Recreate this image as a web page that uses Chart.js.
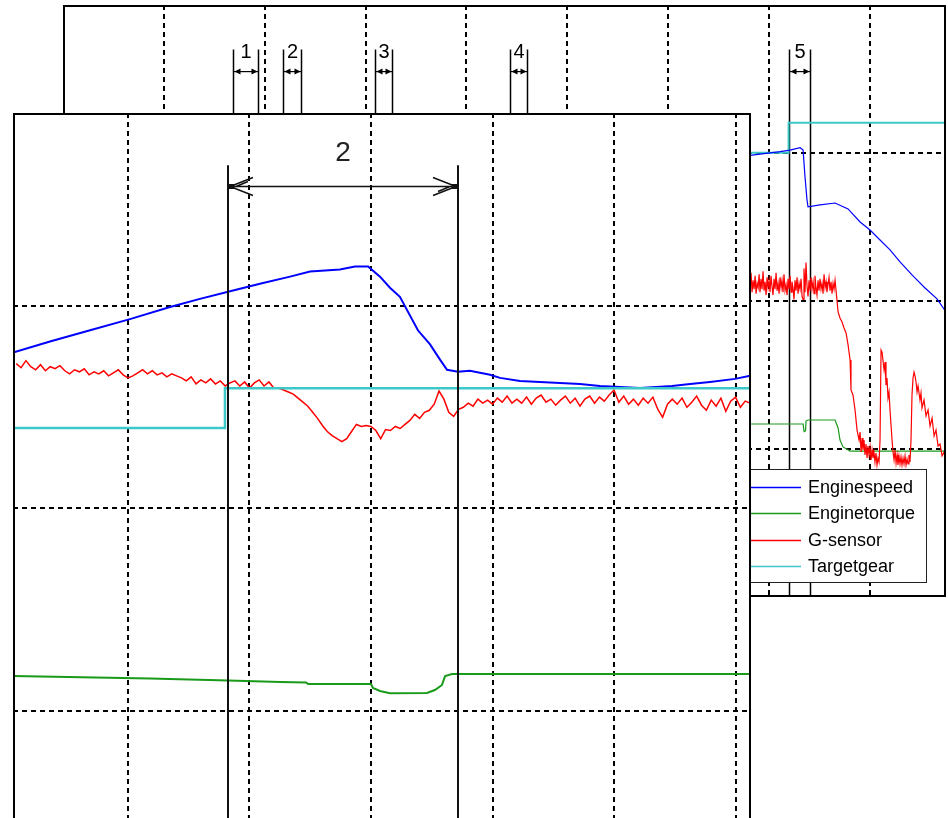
<!DOCTYPE html>
<html>
<head>
<meta charset="utf-8">
<script src="https://cdn.jsdelivr.net/npm/chart.js@4/dist/chart.umd.min.js"></script>
<style>
  html, body { margin: 0; padding: 0; background: #fff; width: 948px; height: 818px; overflow: hidden; }
  #bg { position: absolute; left: 63px; top: 5px; }
  #fg { position: absolute; left: 13px; top: 113px; background: #fff; }
</style>
</head>
<body>
<canvas id="bg" width="883" height="592"></canvas>
<canvas id="fg" width="738" height="705"></canvas>
<script>
  // ---- background window (whole shift), time in s ----
  const bgGridX = [1, 2, 3, 4, 5, 6, 7, 8];
  const bgGridY = [100, 200, 300];
  const bgLabels = ['Enginespeed', 'Enginetorque', 'G-sensor', 'Targetgear'];

  const bgBlueT = [6.713, 6.832, 7.110, 7.208, 7.308, 7.338, 7.357, 7.377, 7.387, 7.506, 7.655, 7.784, 7.903, 8.002, 8.101, 8.200, 8.299, 8.418, 8.547, 8.666, 8.755];
  const bgBlueV = [297.3, 298.6, 300.9, 302.0, 303.6, 302.0, 284.0, 268.2, 263.7, 264.9, 266.2, 262.2, 253.4, 248.0, 241.2, 234.5, 226.4, 217.6, 208.8, 201.4, 192.6];

  const bgGreenT = [6.713, 7.338, 7.348, 7.362, 7.367, 7.387, 7.655, 7.685, 7.704, 7.734, 7.804, 8.755];
  const bgGreenV = [116.9, 116.9, 111.7, 112.2, 118.9, 119.6, 119.6, 114.2, 106.1, 101.4, 98.6, 98.6];

  const bgRedT = [6.713, 6.723, 6.733, 6.743, 6.753, 6.763, 6.773, 6.783, 6.792, 6.802,
    6.812, 6.822, 6.832, 6.842, 6.852, 6.862, 6.872, 6.882, 6.892, 6.902,
    6.911, 6.921, 6.931, 6.941, 6.951, 6.961, 6.971, 6.981, 6.991, 7.001,
    7.010, 7.020, 7.030, 7.040, 7.050, 7.060, 7.070, 7.080, 7.090, 7.100,
    7.110, 7.120, 7.129, 7.139, 7.149, 7.159, 7.169, 7.179, 7.189, 7.199,
    7.209, 7.219, 7.228, 7.238, 7.248, 7.258, 7.268, 7.278, 7.288, 7.298,
    7.308, 7.318, 7.328, 7.338, 7.347, 7.357, 7.367, 7.377, 7.387, 7.397,
    7.407, 7.417, 7.427, 7.437, 7.447, 7.456, 7.466, 7.476, 7.486, 7.496,
    7.506, 7.516, 7.526, 7.536, 7.546, 7.556, 7.566, 7.575, 7.585, 7.595,
    7.605, 7.615, 7.625, 7.635, 7.645, 7.655, 7.665,
    7.685, 7.704, 7.724, 7.744, 7.764, 7.784, 7.804, 7.813, 7.833, 7.853,
    7.873, 7.893, 7.903, 7.913, 7.923, 7.932, 7.942, 7.952, 7.962, 7.972,
    7.982, 7.992, 8.002, 8.012, 8.022, 8.031, 8.041, 8.051, 8.061, 8.071,
    8.081, 8.091, 8.101, 8.111, 8.121, 8.141, 8.151, 8.160, 8.170, 8.180,
    8.190, 8.200, 8.210, 8.220, 8.230, 8.240, 8.250, 8.260, 8.270, 8.279,
    8.289, 8.299, 8.309, 8.319, 8.329, 8.339, 8.349, 8.359, 8.369, 8.379,
    8.388, 8.398, 8.408, 8.418, 8.428, 8.438, 8.448, 8.458, 8.468, 8.478,
    8.497, 8.507, 8.517, 8.537, 8.557, 8.577, 8.597, 8.617, 8.637, 8.656,
    8.676, 8.696, 8.716, 8.736, 8.755];
  const bgRedV = [212, 217, 206, 215, 209, 218, 207, 213, 205, 216,
    210, 219, 206, 214, 208, 217, 205, 212, 209, 218,
    206, 215, 208, 220, 207, 213, 204, 216, 209, 214,
    206, 217, 210, 204, 215, 208, 219, 207, 212, 205,
    216, 209, 214, 206, 218, 207, 211, 204, 215, 208,
    217, 206, 213, 209, 201, 214, 207, 216, 205, 212,
    208, 215, 203, 201, 222, 206, 226, 210, 203, 214,
    207, 216, 208, 213, 205, 217, 209, 204, 214, 207,
    215, 208, 212, 205, 218, 209, 213, 206, 211, 216,
    207, 213, 205, 212, 208, 214, 207,
    192.6, 188.5, 185.8, 181.8, 178.4, 170.3, 160.1, 139.9, 136.5, 126.4,
    112.8, 106.1, 111.5, 98.0, 107.4, 99.3, 106.1, 95.9, 103.4, 93.9,
    102.0, 95.9, 101.4, 92.6, 99.3, 93.9, 98.0, 91.2, 97.3, 89.2,
    93.9, 91.2, 106.1, 166.9, 165.5, 153.4, 158.8, 143.2, 148.0, 134.5,
    138.5, 126.4, 116.2, 106.1, 98.0, 92.6, 99.3, 90.5, 95.9, 89.2,
    95.3, 89.9, 94.6, 89.2, 93.9, 89.9, 95.3, 89.2, 93.2, 89.9,
    95.9, 91.2, 106.1, 136.5, 148.0, 152.0, 149.3, 145.3, 138.5, 142.6,
    133.1, 137.8, 127.7, 133.1, 122.3, 126.4, 115.5, 120.9, 108.8, 112.8,
    102.0, 103.4, 95.3, 98.0, 88.5];

  const bgCyanT = [6.713, 7.194, 7.194, 8.755];
  const bgCyanV = [300.2, 300.2, 320.5, 320.5];

  // shift markers 1..5
  const markerLabels = ['1', '2', '3', '4', '5'];
  const markerStart = [1.689, 2.184, 3.094, 4.432, 7.194];
  const markerEnd = [1.931, 2.360, 3.265, 4.601, 7.402];
  const markerTop = 370, markerArrow = 355, markerText = 368;

  // ---- foreground window (zoom on shift 2), time in ms ----
  const fgGridX = [500, 1000, 1500, 2000, 2500, 3000];
  const fgGridY = [200, 400, 600];

  const fgBlueT = [27, 179, 344, 508, 673, 796, 912, 1043, 1167, 1249, 1372, 1434, 1488, 1537, 1578, 1619, 1693, 1743, 1784, 1813, 1858, 1907, 1990, 2031, 2113, 2195, 2278, 2360, 2442, 2607, 2739, 2813, 2895, 2998, 3060];
  const fgBlueV = [554, 565, 576, 587, 599, 607, 614, 622, 629, 634, 636, 639, 639, 629, 618, 609, 576, 562, 547, 537, 535, 536, 532, 529, 526, 525, 524, 523, 521, 519, 521, 523, 525, 528, 531];

  const fgGreenT = [27, 591, 912, 1126, 1233, 1241, 1500, 1508, 1537, 1578, 1730, 1763, 1792, 1805, 1833, 3060];
  const fgGreenV = [234.5, 232.1, 230.1, 228.6, 228.1, 226.6, 226.6, 222.7, 219.7, 217.5, 217.8, 220.7, 225.7, 234.5, 236.5, 236.5];

  const fgRedT = [40, 60, 80, 100, 120, 140, 160, 180, 200, 220, 240, 260, 280, 300, 320, 340, 360, 380, 400, 420,
    440, 460, 480, 500, 520, 540, 560, 580, 600, 620, 640, 660, 680, 700, 720, 740, 760, 780, 800, 820,
    840, 860, 880, 900, 920, 940, 960, 980, 1000, 1020, 1040, 1060, 1080, 1100, 1120, 1140, 1160, 1180, 1200, 1220,
    1240, 1260, 1280, 1300, 1320, 1340, 1360, 1380, 1400, 1420, 1440, 1460, 1480, 1500, 1520, 1540, 1560, 1580, 1600, 1620,
    1640, 1660, 1680, 1700, 1720, 1740, 1760, 1780, 1800, 1820, 1840, 1860, 1880, 1900, 1920, 1940, 1960, 1980, 2000, 2020,
    2040, 2060, 2080, 2100, 2120, 2140, 2160, 2180, 2200, 2220, 2240, 2260, 2280, 2300, 2320, 2340, 2360, 2380, 2400, 2420,
    2440, 2460, 2480, 2500, 2520, 2540, 2560, 2580, 2600, 2620, 2640, 2660, 2680, 2700, 2720, 2740, 2760, 2780, 2800, 2820,
    2840, 2860, 2880, 2900, 2920, 2940, 2960, 2980, 3000, 3020, 3040, 3060];
  const fgRedV = [543, 539, 546, 540, 537, 542, 536, 540, 538, 541,
    536, 533, 537, 535, 538, 532, 535, 533, 536, 531,
    534, 537, 532, 529, 531, 534, 537, 533, 536, 532,
    534, 530, 533, 531, 529, 526, 530, 523, 527, 524,
    528, 523, 526, 521, 524, 526, 521, 525, 519, 524,
    527, 521, 525, 519, 519, 517, 515, 513, 509, 505,
    501, 495, 489, 482, 476, 472, 469, 466, 469, 476,
    483, 481, 482, 481, 477, 469, 478, 477, 481, 479,
    483, 487, 493, 489, 495, 497, 503, 516, 508, 495,
    491, 498, 500, 504, 501, 508, 504, 507, 503, 509,
    505, 511, 504, 508, 504, 510, 503, 509, 512, 505,
    508, 502, 507, 511, 504, 509, 501, 508, 511, 504,
    510, 506, 512, 517, 505, 511, 503, 508, 502, 509,
    504, 510, 498, 490, 503, 508, 503, 509, 500, 505,
    511, 502, 497, 507, 501, 509, 496, 506, 510, 500,
    506, 504];

  const fgCyanT = [27, 899, 899, 3064];
  const fgCyanV = [479.5, 479.5, 518.7, 518.7];

  // measured span of shift 2
  const spanStart = 912, spanEnd = 1858, spanLabel = '2';
  const spanTop = 739, spanArrow = 718.5, spanText = 751;

  const colors = ['#0000ff', '#1a9a1a', '#ff0000', '#3cc8c8'];
  const FONT = 'Arial, "Liberation Sans", sans-serif';

  function pts(ts, vs) {
    return ts.map((t, i) => ({ x: t, y: vs[i] }));
  }

  function gridScale(min, max, grid) {
    return {
      type: 'linear', min: min, max: max, bounds: 'data',
      ticks: { display: false },
      grid: { color: '#000', lineWidth: 2, drawTicks: false },
      border: { display: false, dash: [5, 4] },
      afterBuildTicks: axis => { axis.ticks = grid.map(v => ({ value: v })); }
    };
  }

  function frame(sides) {
    return {
      id: 'frame',
      afterDraw(chart) {
        const { ctx, chartArea: a } = chart;
        ctx.save();
        ctx.strokeStyle = '#000';
        ctx.lineWidth = 2;
        ctx.beginPath();
        if (sides.includes('l')) { ctx.moveTo(a.left + 1, a.top); ctx.lineTo(a.left + 1, a.bottom); }
        if (sides.includes('t')) { ctx.moveTo(a.left, a.top + 1); ctx.lineTo(a.right, a.top + 1); }
        if (sides.includes('r')) { ctx.moveTo(a.right - 1, a.top); ctx.lineTo(a.right - 1, a.bottom); }
        if (sides.includes('b')) { ctx.moveTo(a.left, a.bottom - 1); ctx.lineTo(a.right, a.bottom - 1); }
        ctx.stroke();
        ctx.restore();
      }
    };
  }

  function head(ctx, x, y, dir) {
    ctx.beginPath();
    ctx.moveTo(x, y);
    ctx.lineTo(x + dir * 6, y - 3);
    ctx.lineTo(x + dir * 6, y + 3);
    ctx.closePath();
    ctx.fill();
  }

  const markerPlugin = {
    id: 'markers',
    beforeDatasetsDraw(chart) {
      const { ctx, scales: { x, y }, chartArea } = chart;
      const top = y.getPixelForValue(markerTop);
      const ay = y.getPixelForValue(markerArrow);
      ctx.save();
      ctx.strokeStyle = '#000';
      ctx.fillStyle = '#000';
      ctx.lineWidth = 1.5;
      ctx.font = '20px ' + FONT;
      ctx.textAlign = 'center';
      ctx.textBaseline = 'middle';
      markerStart.forEach((s, i) => {
        const x0 = Math.round(x.getPixelForValue(s)) + 0.5;
        const x1 = Math.round(x.getPixelForValue(markerEnd[i])) + 0.5;
        ctx.beginPath();
        ctx.moveTo(x0, top); ctx.lineTo(x0, chartArea.bottom);
        ctx.moveTo(x1, top); ctx.lineTo(x1, chartArea.bottom);
        ctx.stroke();
        ctx.lineWidth = 1.2;
        ctx.beginPath();
        ctx.moveTo(x0, ay); ctx.lineTo(x1, ay);
        ctx.stroke();
        ctx.lineWidth = 1.5;
        head(ctx, x0 + 1, ay, 1);
        head(ctx, x1 - 1, ay, -1);
        ctx.fillText(markerLabels[i], (x0 + x1) / 2, y.getPixelForValue(markerText));
      });
      ctx.restore();
    }
  };

  const legendPlugin = {
    id: 'boxLegend',
    afterDraw(chart) {
      const { ctx, chartArea: a } = chart;
      const right = a.right - 20, left = right - 254, top = a.top + 464, h = 113;
      ctx.save();
      ctx.fillStyle = '#fff';
      ctx.fillRect(left, top, right - left, h);
      ctx.strokeStyle = '#222';
      ctx.lineWidth = 1;
      ctx.strokeRect(left + 0.5, top + 0.5, right - left, h);
      ctx.font = '18px ' + FONT;
      ctx.textBaseline = 'middle';
      chart.data.datasets.forEach((ds, i) => {
        const yy = Math.round(top + 17.5 + i * 26.6) + 0.5;
        ctx.strokeStyle = ds.borderColor;
        ctx.lineWidth = 1.5;
        ctx.beginPath();
        ctx.moveTo(right - 200, yy);
        ctx.lineTo(right - 125, yy);
        ctx.stroke();
        ctx.fillStyle = '#000';
        ctx.fillText(ds.label, right - 118, yy + 1);
      });
      ctx.restore();
    }
  };

  const spanPlugin = {
    id: 'span',
    afterDatasetsDraw(chart) {
      const { ctx, scales: { x, y }, chartArea } = chart;
      const x0 = Math.round(x.getPixelForValue(spanStart));
      const x1 = Math.round(x.getPixelForValue(spanEnd));
      const top = y.getPixelForValue(spanTop);
      const ay = Math.round(y.getPixelForValue(spanArrow)) + 0.5;
      ctx.save();
      ctx.strokeStyle = '#111';
      ctx.lineWidth = 2;
      ctx.beginPath();
      ctx.moveTo(x0, top); ctx.lineTo(x0, chartArea.bottom);
      ctx.moveTo(x1, top); ctx.lineTo(x1, chartArea.bottom);
      ctx.stroke();
      ctx.lineWidth = 1.5;
      ctx.beginPath();
      ctx.moveTo(x0, ay); ctx.lineTo(x1, ay);
      ctx.moveTo(x0 + 25, ay - 9); ctx.lineTo(x0 + 2, ay); ctx.lineTo(x0 + 25, ay + 9);
      ctx.moveTo(x0 + 20, ay - 5); ctx.lineTo(x0 + 8, ay);
      ctx.moveTo(x1 - 25, ay - 9); ctx.lineTo(x1 - 2, ay); ctx.lineTo(x1 - 25, ay + 9);
      ctx.moveTo(x1 - 20, ay + 5); ctx.lineTo(x1 - 8, ay);
      ctx.stroke();
      ctx.fillStyle = '#111';
      ctx.fillRect(x0 + 1, ay - 2.5, 5, 5);
      ctx.fillRect(x1 - 6, ay - 2.5, 5, 5);
      ctx.fillStyle = '#222';
      ctx.font = '28px ' + FONT;
      ctx.textAlign = 'center';
      ctx.textBaseline = 'middle';
      ctx.fillText(spanLabel, (x0 + x1) / 2, y.getPixelForValue(spanText));
      ctx.restore();
    }
  };

  function line(label, data, color, width, order) {
    return {
      label: label, data: data, borderColor: color, backgroundColor: color,
      borderWidth: width, pointRadius: 0, tension: 0, fill: false, order: order
    };
  }

  const common = {
    responsive: false,
    animation: false,
    devicePixelRatio: 1,
    layout: { padding: 0, autoPadding: false },
    plugins: { legend: { display: false }, tooltip: { enabled: false } },
    events: []
  };

  new Chart(document.getElementById('bg'), {
    type: 'line',
    data: {
      datasets: [
        line(bgLabels[0], pts(bgBlueT, bgBlueV), colors[0], 1.2, 1),
        line(bgLabels[1], pts(bgGreenT, bgGreenV), colors[1], 1.2, 3),
        line(bgLabels[2], pts(bgRedT, bgRedV), colors[2], 1.2, 2),
        line(bgLabels[3], pts(bgCyanT, bgCyanV), colors[3], 2, 4)
      ]
    },
    options: Object.assign({}, common, {
      scales: { x: gridScale(0, 8.755, bgGridX), y: gridScale(0, 400, bgGridY) }
    }),
    plugins: [markerPlugin, frame('ltrb'), legendPlugin]
  });

  new Chart(document.getElementById('fg'), {
    type: 'line',
    data: {
      datasets: [
        line(bgLabels[0], pts(fgBlueT, fgBlueV), colors[0], 2, 1),
        line(bgLabels[1], pts(fgGreenT, fgGreenV), colors[1], 2, 3),
        line(bgLabels[2], pts(fgRedT, fgRedV), colors[2], 1.5, 2),
        line(bgLabels[3], pts(fgCyanT, fgCyanV), colors[3], 2.5, 0)
      ]
    },
    options: Object.assign({}, common, {
      scales: { x: gridScale(26.8, 3063.7, fgGridX), y: gridScale(94.3, 790.6, fgGridY) }
    }),
    plugins: [frame('ltr'), spanPlugin]
  });
</script>
</body>
</html>
